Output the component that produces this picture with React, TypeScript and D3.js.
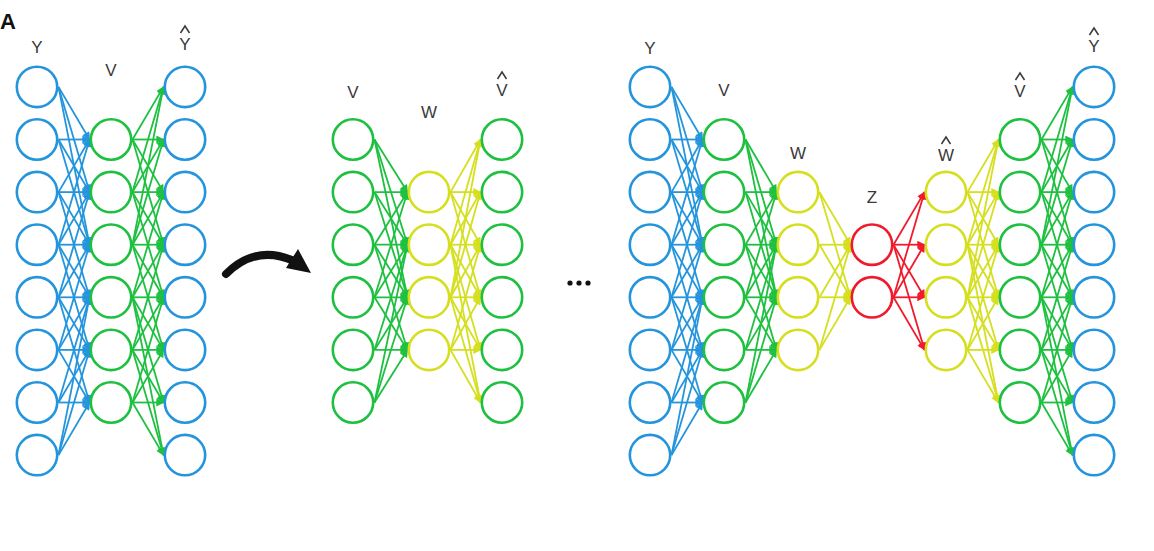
import { useEffect, useRef } from 'react'
import * as d3 from 'd3'

// layer definitions per panel: label, node count, colour key
const panel1Layers = [
  { label: 'Y', n: 8, hat: false, color: 'blue' },
  { label: 'V', n: 6, hat: false, color: 'green' },
  { label: 'Y', n: 8, hat: true, color: 'blue' },
]
const panel2Layers = [
  { label: 'V', n: 6, hat: false, color: 'green' },
  { label: 'W', n: 4, hat: false, color: 'yellow' },
  { label: 'V', n: 6, hat: true, color: 'green' },
]
const panel3Layers = [
  { label: 'Y', n: 8, hat: false, color: 'blue' },
  { label: 'V', n: 6, hat: false, color: 'green' },
  { label: 'W', n: 4, hat: false, color: 'yellow' },
  { label: 'Z', n: 2, hat: false, color: 'red' },
  { label: 'W', n: 4, hat: true, color: 'yellow' },
  { label: 'V', n: 6, hat: true, color: 'green' },
  { label: 'Y', n: 8, hat: true, color: 'blue' },
]

// layout: column centres and label heights
const panel1X = [37, 111, 185]
const panel1LabelY = [47, 70, 44]
const panel2X = [353, 429, 502]
const panel2LabelY = [92, 112, 90]
const panel3X = [650, 724, 798, 872, 946, 1020, 1094]
const panel3LabelY = [48, 90, 153, 197, 155, 91, 46]

const palette: Record<string, string> = {
  blue: '#2495dc',
  green: '#1ec040',
  yellow: '#d5df1e',
  red: '#f01a2c',
}

// connections reach two rows away, and every node gets at least its three nearest partners
const reachRows = 2
const minLinks = 3

export default function App() {
  const ref = useRef<SVGSVGElement>(null)

  useEffect(() => {
    if (!ref.current) return
    const svg = d3.select(ref.current)
    svg.selectAll('*').remove()

    const width = 1154
    const height = 551
    const r = 21.5
    const midY = 271
    const step = 52.6

    svg.append('rect').attr('width', width).attr('height', height).attr('fill', '#fff')

    const defs = svg.append('defs')
    Object.entries(palette).forEach(([k, c]) => {
      defs.append('marker')
        .attr('id', `head-${k}`)
        .attr('viewBox', '0 0 10 10')
        .attr('refX', 9)
        .attr('refY', 5)
        .attr('markerUnits', 'userSpaceOnUse')
        .attr('markerWidth', 9)
        .attr('markerHeight', 8)
        .attr('orient', 'auto')
        .append('path')
        .attr('d', 'M0,0 L10,5 L0,10 z')
        .attr('fill', c)
    })

    const rowY = (i: number, n: number) => midY + (i - (n - 1) / 2) * step

    const nearest = (y: number, n: number) =>
      d3.range(n).sort((a, b) => Math.abs(rowY(a, n) - y) - Math.abs(rowY(b, n) - y)).slice(0, minLinks)

    const linked = (i: number, n: number, j: number, m: number) => {
      const yi = rowY(i, n)
      const yj = rowY(j, m)
      if (Math.abs(yi - yj) <= reachRows * step + 3) return true
      return nearest(yi, m).includes(j) || nearest(yj, n).includes(i)
    }

    const drawPanel = (layers: typeof panel1Layers, xs: number[], labelYs: number[]) => {
      const g = svg.append('g')
      // edges
      layers.forEach((layer, li) => {
        if (li === layers.length - 1) return
        const next = layers[li + 1]
        const color = palette[layer.color]
        d3.range(layer.n).forEach(i => {
          d3.range(next.n).forEach(j => {
            if (!linked(i, layer.n, j, next.n)) return
            g.append('line')
              .attr('x1', xs[li] + r)
              .attr('y1', rowY(i, layer.n))
              .attr('x2', xs[li + 1] - r)
              .attr('y2', rowY(j, next.n))
              .attr('stroke', color)
              .attr('stroke-width', 1.8)
              .attr('marker-end', `url(#head-${layer.color})`)
          })
        })
      })
      // nodes
      layers.forEach((layer, li) => {
        d3.range(layer.n).forEach(i => {
          g.append('circle')
            .attr('cx', xs[li])
            .attr('cy', rowY(i, layer.n))
            .attr('r', r - 1.3)
            .attr('fill', 'none')
            .attr('stroke', palette[layer.color])
            .attr('stroke-width', 2.6)
        })
        g.append('text')
          .attr('x', xs[li])
          .attr('y', labelYs[li])
          .attr('dy', '0.36em')
          .attr('text-anchor', 'middle')
          .style('font-family', 'Arial, "Liberation Sans", sans-serif')
          .style('font-size', '17px')
          .style('fill', '#3a3a3a')
          .text(layer.label)
        if (layer.hat) {
          const hy = labelYs[li] - 15
          g.append('path')
            .attr('d', `M${xs[li] - 4.5},${hy + 4} L${xs[li]},${hy - 3} L${xs[li] + 4.5},${hy + 4}`)
            .attr('fill', 'none')
            .attr('stroke', '#3a3a3a')
            .attr('stroke-width', 1.5)
        }
      })
    }

    drawPanel(panel1Layers, panel1X, panel1LabelY)
    drawPanel(panel2Layers, panel2X, panel2LabelY)
    drawPanel(panel3Layers, panel3X, panel3LabelY)

    // panel letter
    svg.append('text')
      .attr('x', 0)
      .attr('y', 29)
      .style('font-family', 'Arial, "Liberation Sans", sans-serif')
      .style('font-size', '22px')
      .style('font-weight', 'bold')
      .style('fill', '#111')
      .text('A')

    // curved arrow between panels
    svg.append('path')
      .attr('d', 'M226,274 Q256,244 294,261')
      .attr('fill', 'none')
      .attr('stroke', '#111')
      .attr('stroke-width', 8)
      .attr('stroke-linecap', 'round')
    svg.append('path')
      .attr('d', 'M298,249 L311,273 L286,268 Z')
      .attr('fill', '#111')

    // ellipsis
    ;[570, 579, 588].forEach(cx => {
      svg.append('circle').attr('cx', cx).attr('cy', 283).attr('r', 2.6).attr('fill', '#111')
    })
  }, [])

  return (
    <svg
      ref={ref}
      width={1154}
      height={551}
      style={{ position: 'absolute', left: 0, top: 0, display: 'block' }}
    />
  )
}
